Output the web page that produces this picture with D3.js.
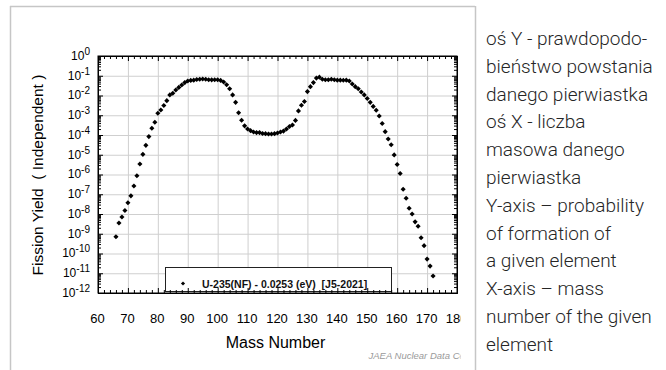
<!DOCTYPE html>
<html><head><meta charset="utf-8">
<script src="https://cdn.jsdelivr.net/npm/d3@7"></script>
<style>
html,body{margin:0;padding:0;background:#fff;}
svg{display:block;}
</style></head>
<body>
<script>
// ---- data ----
const massNumbers = [66,67,68,69,70,71,72,73,74,75,76,77,78,79,80,81,82,83,84,85,86,87,88,89,90,
  91,92,93,94,95,96,97,98,99,100,101,102,103,104,105,106,107,108,109,110,111,112,113,114,115,116,
  117,118,119,120,121,122,123,124,125,126,127,128,129,130,131,132,133,134,135,136,137,138,139,140,
  141,142,143,144,145,146,147,148,149,150,151,152,153,154,155,156,157,158,159,160,161,162,163,164,
  165,166,167,168,169,170,171,172];
const yields = [7.1e-10,3.5e-9,7.1e-9,1.5e-8,3.7e-8,8.3e-8,2.6e-7,8.7e-7,3.4e-6,1.05e-5,3.0e-5,8.3e-5,
  2.2e-4,4.4e-4,1.26e-3,1.86e-3,3.1e-3,5.5e-3,1.07e-2,1.29e-2,1.9e-2,2.57e-2,3.4e-2,4.5e-2,5.4e-2,
  5.8e-2,6.0e-2,6.5e-2,6.6e-2,6.8e-2,6.6e-2,6.3e-2,6.2e-2,6.3e-2,6.3e-2,5.8e-2,4.8e-2,3.5e-2,2.2e-2,
  1.07e-2,4.5e-3,1.35e-3,5.6e-4,2.9e-4,2.0e-4,1.66e-4,1.41e-4,1.32e-4,1.32e-4,1.2e-4,1.17e-4,
  1.12e-4,1.12e-4,1.17e-4,1.26e-4,1.41e-4,1.58e-4,2.0e-4,2.7e-4,3.2e-4,5.5e-4,1.66e-3,3.2e-3,5.0e-3,
  1.58e-2,2.8e-2,4.5e-2,7.6e-2,8.5e-2,6.6e-2,6.3e-2,6.3e-2,6.6e-2,6.3e-2,6.0e-2,
  6.0e-2,5.9e-2,6.0e-2,5.4e-2,3.8e-2,2.8e-2,2.2e-2,1.5e-2,1.07e-2,7.1e-3,4.5e-3,2.8e-3,1.78e-3,
  9.1e-4,3.8e-4,1.48e-4,6.3e-5,3.2e-5,9.8e-6,3.2e-6,1.12e-6,1.78e-7,6.3e-8,1.95e-8,
  1.0e-8,4.0e-9,2.4e-9,6.3e-10,2.5e-10,5.2e-11,2.3e-11,7.2e-12];
const xTicks = [60,70,80,90,100,110,120,130,140,150,160,170,180];
const xMinorTicks = [62,64,66,68,72,74,76,78,82,84,86,88,92,94,96,98,102,104,106,108,112,114,116,118,
  122,124,126,128,132,134,136,138,142,144,146,148,152,154,156,158,162,164,166,168,172,174,176,178];
const yExponents = [0,-1,-2,-3,-4,-5,-6,-7,-8,-9,-10,-11,-12];
const legendLabel = "U-235(NF) - 0.0253 (eV)  [J5-2021]";
const yTitle = "Fission Yield  ( Independent )";
const xTitle = "Mass Number";
const watermark = "JAEA Nuclear Data Center";
const sideLines = ["oś Y - prawdopodo-","bieństwo powstania","danego pierwiastka","oś X - liczba",
  "masowa danego","pierwiastka","Y-axis – probability","of formation of","a given element",
  "X-axis – mass","number of the given","element"];

// ---- layout ----
const W = 666, H = 370;
const L = 98, R = 457, T = 56, B = 293;
const CLIPX = 460.5;
const svg = d3.select("body").append("svg").attr("width", W).attr("height", H);

const x = d3.scaleLinear().domain([60,180]).range([L,R]);
const y = d3.scaleLog().domain([1e-12,1]).range([B,T]);
const decades = yExponents.map(e => Math.pow(10,e));
const yMinor = [];
decades.slice(1).forEach(d => { for (let k=2;k<=9;k++) yMinor.push(d*k); });

// clip for the embedded chart image
svg.append("clipPath").attr("id","imgclip").append("rect")
  .attr("x",10).attr("y",6).attr("width",CLIPX-10).attr("height",H);
const g = svg.append("g").attr("clip-path","url(#imgclip)");

// grid
g.append("g").attr("transform",`translate(0,${B})`)
  .call(d3.axisBottom(x).tickValues(xTicks).tickSize(-(B-T)).tickFormat(""))
  .call(s => { s.select(".domain").remove(); s.selectAll("line").attr("stroke","#cfcfcf"); });
g.append("g").attr("transform",`translate(${L},0)`)
  .call(d3.axisLeft(y).tickValues(decades).tickSize(-(R-L)).tickFormat(""))
  .call(s => { s.select(".domain").remove(); s.selectAll("line").attr("stroke","#cfcfcf"); });

// points
const sym = d3.symbol().type(d3.symbolSquare).size(13);
g.append("g").selectAll("path").data(massNumbers.map((a,i)=>[a,yields[i]])).join("path")
  .attr("d", sym)
  .attr("transform", d => `translate(${x(d[0])},${y(d[1])}) rotate(45)`)
  .attr("fill","#000");

// legend
const lg = g.append("g");
lg.append("rect").attr("x",165.5).attr("y",267.5).attr("width",226).attr("height",24)
  .attr("fill","#fff").attr("stroke","#222").attr("stroke-width",1);
lg.append("path").attr("d", d3.symbol().type(d3.symbolSquare).size(9))
  .attr("transform","translate(183,283.5) rotate(45)").attr("fill","#000");
lg.append("text").attr("x",202).attr("y",287.5).text(legendLabel)
  .attr("font-family","Liberation Sans, Arial, sans-serif").attr("font-size","10.5px")
  .attr("font-weight","bold").attr("fill","#111").style("white-space","pre");

// axes ticks
function styleAx(s){ s.select(".domain").attr("stroke","#000"); s.selectAll("line").attr("stroke","#000"); }
g.append("g").attr("transform",`translate(0,${B})`)
  .call(d3.axisBottom(x).tickValues(xMinorTicks).tickSize(-3).tickSizeOuter(0).tickFormat(""))
  .call(styleAx);
const xAx = g.append("g").attr("transform",`translate(0,${B})`)
  .call(d3.axisBottom(x).tickValues(xTicks).tickSize(-5).tickSizeOuter(0).tickPadding(21))
  .call(styleAx);
xAx.selectAll("text").attr("font-family","Liberation Sans, Arial, sans-serif")
  .attr("font-size","13px").attr("fill","#000").attr("dx","-1");
g.append("g").attr("transform",`translate(0,${T})`)
  .call(d3.axisTop(x).tickValues(xMinorTicks).tickSize(-3).tickSizeOuter(0).tickFormat(""))
  .call(styleAx);
g.append("g").attr("transform",`translate(0,${T})`)
  .call(d3.axisTop(x).tickValues(xTicks).tickSize(-5).tickSizeOuter(0).tickFormat(""))
  .call(styleAx);

g.append("g").attr("transform",`translate(${L},0)`)
  .call(d3.axisLeft(y).tickValues(yMinor).tickSize(-3).tickSizeOuter(0).tickFormat(""))
  .call(styleAx);
const yAx = g.append("g").attr("transform",`translate(${L},0)`)
  .call(d3.axisLeft(y).tickValues(decades).tickSize(-5).tickSizeOuter(0).tickPadding(8).tickFormat(""))
  .call(styleAx);
yAx.selectAll(".tick text").each(function(d,i){
  const t = d3.select(this).attr("font-family","Liberation Sans, Arial, sans-serif")
    .attr("font-size","12px").attr("fill","#000").attr("dy","0.28em");
  t.append("tspan").text("10");
  t.append("tspan").attr("dy","-5").attr("font-size","10px").text(String(yExponents[i]));
});
g.append("g").attr("transform",`translate(${R},0)`)
  .call(d3.axisRight(y).tickValues(yMinor).tickSize(-3).tickSizeOuter(0).tickFormat(""))
  .call(styleAx);
g.append("g").attr("transform",`translate(${R},0)`)
  .call(d3.axisRight(y).tickValues(decades).tickSize(-5).tickSizeOuter(0).tickFormat(""))
  .call(styleAx);
g.append("rect").attr("x",L).attr("y",T).attr("width",R-L).attr("height",B-T)
  .attr("fill","none").attr("stroke","#000");

// titles
g.append("text").attr("transform",`translate(43,175) rotate(-90)`).attr("text-anchor","middle")
  .attr("font-family","Liberation Sans, Arial, sans-serif").attr("font-size","15.5px")
  .style("white-space","pre").text(yTitle);
g.append("text").attr("x",275.5).attr("y",348).attr("text-anchor","middle")
  .attr("font-family","Liberation Sans, Arial, sans-serif").attr("font-size","16px").text(xTitle);
const wm = g.append("text").attr("x",363).attr("y",359).attr("font-family","Liberation Sans, Arial, sans-serif")
  .attr("font-size","9.5px").attr("font-style","italic").attr("fill","#9a9a9a").text(watermark);
// place so that the visible part ends with "C" at the clip edge
const visW = wm.node().getSubStringLength(0, "JAEA Nuclear Data C".length);
wm.attr("x", CLIPX - 1 - visW);

// frame lines
const fc = "#c6c6c6";
svg.append("line").attr("x1",10).attr("x2",475).attr("y1",6.5).attr("y2",6.5).attr("stroke",fc).attr("stroke-width",1.5);
svg.append("line").attr("x1",10.5).attr("x2",10.5).attr("y1",6).attr("y2",H).attr("stroke",fc).attr("stroke-width",1.5);
svg.append("line").attr("x1",475.5).attr("x2",475.5).attr("y1",6).attr("y2",H).attr("stroke",fc).attr("stroke-width",1.5);

// side text
svg.append("g").selectAll("text").data(sideLines).join("text")
  .attr("x",486).attr("y",(d,i)=>45 + i*27.8)
  .attr("font-family","Roboto, 'Open Sans', sans-serif").attr("font-weight",300)
  .attr("font-size","19px").attr("fill","#262626").text(d=>d);
</script>
</body></html>
